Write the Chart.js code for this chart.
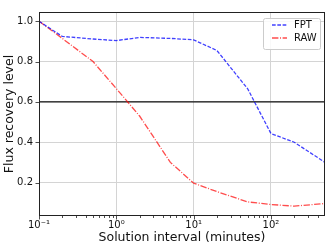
<!DOCTYPE html>
<html>
<head>
<meta charset="utf-8">
<script src="https://cdn.jsdelivr.net/npm/chart.js@4/dist/chart.umd.min.js"></script>
<style>
  html, body { margin: 0; padding: 0; background: #fff; }
</style>
</head>
<body>
<canvas id="fluxChart" width="330" height="249"></canvas>
<script>
// data
const intervals = [0.1, 0.2, 0.5, 1, 2, 5, 10, 20, 50, 100, 200, 500];
const fptValues = [1.0, 0.925, 0.912, 0.904, 0.92, 0.915, 0.908, 0.855, 0.665, 0.443, 0.40, 0.30];
const rawValues = [1.0, 0.915, 0.80, 0.666, 0.53, 0.30, 0.197, 0.155, 0.104, 0.091, 0.083, 0.096];
const threshold = 0.6;

const xMajorTicks = [0.1, 1, 10, 100];
const xMajorLabels = ['10\u207B\u00B9', '10\u2070', '10\u00B9', '10\u00B2'];
const xMinorTicks = [0.2, 0.3, 0.4, 0.5, 0.6, 0.7, 0.8, 0.9, 2, 3, 4, 5, 6, 7, 8, 9,
                     20, 30, 40, 50, 60, 70, 80, 90, 200, 300, 400];
const yTicks = [0.2, 0.4, 0.6, 0.8, 1.0];

const FONT = 'DejaVu Sans';
const gridColor = '#d4d4d4';
const fptColor = 'rgba(0,0,255,0.75)';
const rawColor = 'rgba(255,0,0,0.7)';

function points(values) {
    return intervals.map((x, i) => ({ x: x, y: values[i] }));
}

// frame, tick marks and legend drawn on top
const framePlugin = {
    id: 'frame',
    afterDraw(chart) {
        const c = chart.ctx;
        const a = chart.chartArea;
        const xs = chart.scales.x, ys = chart.scales.y;
        c.save();
        c.strokeStyle = '#222';
        c.lineWidth = 1;
        c.strokeRect(a.left + 0.5, a.top + 0.5, a.right - a.left - 1, a.bottom - a.top - 1);

        c.beginPath();
        xMajorTicks.concat(xMinorTicks).forEach(v => {
            const px = Math.round(xs.getPixelForValue(v)) + 0.5;
            const len = xMajorTicks.includes(v) ? 3.5 : 2;
            c.moveTo(px, a.bottom);
            c.lineTo(px, a.bottom + len);
        });
        yTicks.forEach(v => {
            const py = Math.round(ys.getPixelForValue(v)) + 0.5;
            c.moveTo(a.left, py);
            c.lineTo(a.left - 3.5, py);
        });
        c.lineWidth = 0.8;
        c.stroke();

        // legend, upper right
        const bx = a.right - 62, by = a.top + 6, bw = 57, bh = 31;
        c.beginPath();
        c.roundRect(bx + 0.5, by + 0.5, bw, bh, 2);
        c.fillStyle = 'rgba(255,255,255,0.85)';
        c.fill();
        c.strokeStyle = '#cccccc';
        c.lineWidth = 1;
        c.stroke();
        c.font = '10px "' + FONT + '"';
        c.textBaseline = 'middle';
        c.textAlign = 'left';
        [0, 1].forEach(i => {
            const ds = chart.data.datasets[i];
            const opts = chart.getDatasetMeta(i).dataset.options;
            const ly = by + 7 + i * 13;
            c.beginPath();
            c.setLineDash(opts.borderDash);
            c.strokeStyle = opts.borderColor;
            c.lineWidth = opts.borderWidth;
            c.moveTo(bx + 9, ly);
            c.lineTo(bx + 24, ly);
            c.stroke();
            c.setLineDash([]);
            c.fillStyle = '#111';
            c.fillText(ds.label, bx + 31, ly + 0.5);
        });
        c.restore();
    }
};

const ctx = document.getElementById('fluxChart').getContext('2d');
const fluxChart = new Chart(ctx, {
    type: 'line',
    data: {
        datasets: [{
            label: 'FPT',
            data: points(fptValues),
            borderColor: fptColor,
            borderWidth: 1.3,
            borderDash: [3.7, 1.6],
            pointRadius: 0,
            fill: false,
            tension: 0
        }, {
            label: 'RAW',
            data: points(rawValues),
            borderColor: rawColor,
            borderWidth: 1.3,
            borderDash: [6.4, 1.6, 1, 1.6],
            pointRadius: 0,
            fill: false,
            tension: 0
        }, {
            label: 'threshold',
            data: [{ x: intervals[0], y: threshold }, { x: intervals[intervals.length - 1], y: threshold }],
            borderColor: '#111',
            borderWidth: 1.2,
            pointRadius: 0,
            fill: false
        }]
    },
    options: {
        responsive: false,
        animation: false,
        layout: { padding: { top: 6, right: 5, left: 0, bottom: 0 } },
        plugins: {
            legend: { display: false },
            tooltip: { enabled: false }
        },
        scales: {
            x: {
                type: 'logarithmic',
                min: 0.1,
                max: 500,
                afterBuildTicks: s => {
                    s.ticks = xMajorTicks.concat(xMinorTicks).sort((p, q) => p - q).map(v => ({ value: v }));
                },
                afterFit: s => { s.height = 33; },
                grid: {
                    drawTicks: false,
                    color: c => (c.tick && xMajorTicks.includes(c.tick.value)) ? gridColor : 'rgba(0,0,0,0)'
                },
                border: { display: false },
                ticks: {
                    autoSkip: false,
                    maxRotation: 0,
                    padding: 3,
                    color: '#111',
                    font: { family: FONT, size: 10 },
                    callback: v => {
                        const i = xMajorTicks.indexOf(v);
                        return i >= 0 ? xMajorLabels[i] : '';
                    }
                },
                title: {
                    display: true,
                    text: 'Solution interval (minutes)',
                    color: '#111',
                    font: { family: FONT, size: 12.5 },
                    padding: { top: 0, bottom: 4 }
                }
            },
            y: {
                min: 0.034,
                max: 1.046,
                afterBuildTicks: s => {
                    s.ticks = yTicks.map(v => ({ value: v }));
                },
                afterFit: s => { s.width = 39; },
                grid: { drawTicks: false, color: gridColor },
                border: { display: false },
                ticks: {
                    padding: 6,
                    color: '#111',
                    font: { family: FONT, size: 10 },
                    callback: v => v.toFixed(1)
                },
                title: {
                    display: true,
                    text: 'Flux recovery level',
                    color: '#111',
                    font: { family: FONT, size: 12.5 },
                    padding: { top: 2, bottom: 0 }
                }
            }
        }
    },
    plugins: [framePlugin]
});
</script>
</body>
</html>
